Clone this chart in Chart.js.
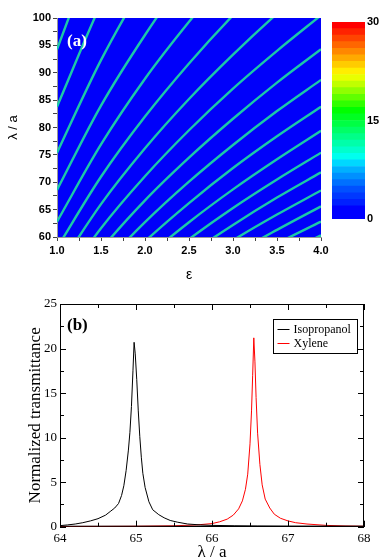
<!DOCTYPE html>
<html>
<head>
<meta charset="utf-8">
<script src="https://cdn.jsdelivr.net/npm/chart.js@4.4.1/dist/chart.umd.min.js"></script>
<style>
  html, body { margin: 0; padding: 0; background: #fff; }
  #wrap { position: relative; width: 382px; height: 559px; overflow: hidden; }
  canvas { position: absolute; }
  #mapChart { left: 0; top: 0; }
  #barChart { left: 325px; top: 0; }
  #specChart { left: 0; top: 285px; }
</style>
</head>
<body>
<div id="wrap">
  <canvas id="mapChart" width="382" height="285"></canvas>
  <canvas id="barChart" width="70" height="240"></canvas>
  <canvas id="specChart" width="382" height="290"></canvas>
</div>
<script>
// ---- panel (a): resonance lines, lambda/a against epsilon ----
const epsilon = [1.0, 1.5, 2.0, 2.5, 3.0, 3.5, 4.0];
const modeLines = [
  [94.3, 115.4, 133.3, 149.0, 163.2, 176.3, 188.5],
  [83.8, 102.6, 118.5, 132.5, 145.1, 156.7, 167.6],
  [75.4, 92.3, 106.6, 119.2, 130.6, 141.1, 150.8],
  [68.6, 84.0, 96.9, 108.4, 118.7, 128.2, 137.1],
  [62.8, 76.9, 88.9, 99.3, 108.8, 117.5, 125.7],
  [58.0, 71.0, 82.0, 91.7, 100.5, 108.5, 116.0],
  [53.9, 66.0, 76.2, 85.2, 93.3, 100.8, 107.7],
  [50.3, 61.6, 71.1, 79.5, 87.1, 94.0, 100.5],
  [47.1, 57.7, 66.7, 74.5, 81.6, 88.2, 94.3],
  [44.4, 54.3, 62.7, 70.1, 76.8, 83.0, 88.7],
  [41.9, 51.3, 59.2, 66.2, 72.6, 78.4, 83.8],
  [39.7, 48.6, 56.1, 62.7, 68.7, 74.2, 79.4],
  [37.7, 46.2, 53.3, 59.6, 65.3, 70.5, 75.4],
  [35.9, 44.0, 50.8, 56.8, 62.2, 67.2, 71.8],
  [34.3, 42.0, 48.5, 54.2, 59.4, 64.1, 68.5],
  [32.8, 40.1, 46.4, 51.8, 56.8, 61.3, 65.6],
  [31.4, 38.5, 44.4, 49.7, 54.4, 58.8, 62.8],
  [30.2, 36.9, 42.7, 47.7, 52.2, 56.4, 60.3]
];

// colour scale 0..30, one entry per unit from the bottom
const barTicks = [0, 15, 30];
const barPalette = [
  '#0000ff', '#0000ff', '#0020ff', '#0038ff', '#0050ff', '#0070ff', '#0090ff', '#00b0ff',
  '#00d8ff', '#00ffee', '#00ffcc', '#00ffaa', '#00ff88', '#00ff66', '#00ff44', '#00ff22',
  '#00ff00', '#30ff00', '#60ff00', '#90ff00', '#c0ff00', '#e8ff00', '#ffee00', '#ffcc00',
  '#ffaa00', '#ff8800', '#ff6600', '#ff4400', '#ff2200', '#ff0000'
];

// ---- panel (b): transmittance spectra ----
const isoLambda = [64.00, 64.10, 64.20, 64.30, 64.40, 64.50, 64.60, 64.66, 64.72, 64.77, 64.81, 64.84, 64.87, 64.90, 64.92, 64.94, 64.96, 64.975, 64.99, 65.01, 65.03, 65.05, 65.07, 65.09, 65.12, 65.17, 65.22, 65.30, 65.37, 65.45, 65.55, 65.68, 65.85, 66.00, 66.30, 66.60, 67.00, 67.50, 68.00];
const isoT = [0.12, 0.2, 0.3, 0.45, 0.65, 0.9, 1.3, 1.7, 2.1, 2.6, 3.5, 4.6, 6.3, 8.6, 10.6, 13.5, 17.5, 20.7, 19.4, 16.5, 13.0, 10.1, 7.8, 6.0, 4.4, 2.8, 1.9, 1.35, 1.0, 0.7, 0.5, 0.3, 0.2, 0.15, 0.1, 0.07, 0.05, 0.04, 0.03];
const xylLambda = [64.0, 64.5, 65.0, 65.5, 65.8, 66.0, 66.1, 66.2, 66.28, 66.35, 66.40, 66.44, 66.47, 66.50, 66.52, 66.535, 66.55, 66.565, 66.58, 66.60, 66.63, 66.66, 66.70, 66.76, 66.82, 66.90, 67.00, 67.10, 67.25, 67.50, 67.75, 68.00];
const xylT = [0.02, 0.03, 0.05, 0.1, 0.2, 0.35, 0.55, 0.85, 1.3, 2.0, 2.9, 4.2, 5.9, 9.3, 13.0, 17.0, 21.2, 18.5, 14.5, 10.5, 7.0, 4.7, 3.1, 2.1, 1.4, 0.95, 0.65, 0.45, 0.3, 0.15, 0.08, 0.05];
const seriesNames = ['Isopropanol', 'Xylene'];

const sans = 'Arial, "Liberation Sans", sans-serif';
const serif = '"Times New Roman", "Liberation Serif", serif';

// blue field behind the lines + the (a) tag
const bluePlane = {
  id: 'bluePlane',
  beforeDraw(chart) {
    const a = chart.chartArea, ctx = chart.ctx;
    ctx.save();
    ctx.fillStyle = '#0000fa';
    ctx.fillRect(a.left, a.top, a.right - a.left, a.bottom - a.top);
    ctx.restore();
  },
  afterDatasetsDraw(chart) {
    const ctx = chart.ctx;
    ctx.save();
    ctx.fillStyle = '#fff';
    ctx.font = 'bold 17px ' + serif;
    ctx.textBaseline = 'middle';
    ctx.fillText('(a)', 67, 42);
    ctx.restore();
  }
};

const lineSets = [];
modeLines.forEach(row => {
  const pts = epsilon.map((e, i) => ({ x: e, y: row[i] }));
  lineSets.push({ data: pts, showLine: true, borderColor: '#1cc8a8', borderWidth: 2.4, pointRadius: 0, cubicInterpolationMode: 'monotone', clip: 0 });
  lineSets.push({ data: pts, showLine: true, borderColor: '#90ee58', borderWidth: 1, pointRadius: 0, cubicInterpolationMode: 'monotone', clip: 0 });
});

new Chart(document.getElementById('mapChart'), {
  type: 'scatter',
  data: { datasets: lineSets },
  options: {
    responsive: false,
    animation: false,
    events: [],
    layout: { padding: { top: 18, right: 61, left: 0, bottom: 0 } },
    plugins: { legend: { display: false }, tooltip: { enabled: false } },
    scales: {
      x: {
        type: 'linear', min: 1, max: 4,
        ticks: {
          stepSize: 0.25, autoSkip: false, maxRotation: 0, padding: 3,
          color: '#000', font: { family: sans, size: 11, weight: 'bold' },
          callback: v => (v * 2) % 1 === 0 ? v.toFixed(1) : ''
        },
        grid: { drawOnChartArea: false, tickLength: 4, color: '#444' },
        border: { color: '#999' },
        title: { display: true, text: 'ε', color: '#000', font: { family: sans, size: 14 }, padding: { top: 0, bottom: 1 } },
        afterFit(s) { s.height = 48; }
      },
      y: {
        type: 'linear', min: 60, max: 100,
        ticks: {
          stepSize: 2.5, autoSkip: false, padding: 2,
          color: '#000', font: { family: sans, size: 11, weight: 'bold' },
          callback: v => v % 5 === 0 ? v : ''
        },
        grid: { drawOnChartArea: false, tickLength: 4, color: '#444' },
        border: { color: '#999' },
        title: { display: true, text: 'λ / a', color: '#000', font: { family: sans, size: 13 }, padding: { top: 6, bottom: 0 } },
        afterFit(s) { s.width = 57; }
      }
    }
  },
  plugins: [bluePlane]
});

// colour bar
new Chart(document.getElementById('barChart'), {
  type: 'bar',
  data: {
    labels: [''],
    datasets: barPalette.map(c => ({ data: [1], backgroundColor: c, borderWidth: 0, barPercentage: 1, categoryPercentage: 1 }))
  },
  options: {
    responsive: false,
    animation: false,
    events: [],
    layout: { padding: { top: 22, bottom: 21, left: 7, right: 0 } },
    plugins: { legend: { display: false }, tooltip: { enabled: false } },
    scales: {
      x: { display: false, stacked: true },
      y: {
        stacked: true, min: 0, max: 30, position: 'right',
        afterBuildTicks(s) { s.ticks = barTicks.map(v => ({ value: v })); },
        ticks: { padding: 2, color: '#000', font: { family: sans, size: 11, weight: 'bold' } },
        grid: { display: false, drawTicks: false },
        border: { display: false },
        afterFit(s) { s.width = 30; }
      }
    }
  }
});

// frame with inward ticks, legend box and (b) tag
const specDecor = {
  id: 'specDecor',
  afterDraw(chart) {
    const { ctx, chartArea: a, scales: { x, y } } = chart;
    ctx.save();
    ctx.strokeStyle = '#000';
    ctx.lineWidth = 1;
    ctx.strokeRect(a.left + 0.5, a.top + 0.5, a.right - a.left - 1, a.bottom - a.top - 1);
    ctx.beginPath();
    x.ticks.forEach(t => {
      const px = Math.round(x.getPixelForValue(t.value)) + 0.5;
      const len = t.label ? 6 : 4;
      ctx.moveTo(px, a.bottom); ctx.lineTo(px, a.bottom - len);
      ctx.moveTo(px, a.top); ctx.lineTo(px, a.top + len);
    });
    y.ticks.forEach(t => {
      const py = Math.round(y.getPixelForValue(t.value)) + 0.5;
      const len = t.label !== '' ? 6 : 4;
      ctx.moveTo(a.left, py); ctx.lineTo(a.left + len, py);
      ctx.moveTo(a.right, py); ctx.lineTo(a.right - len, py);
    });
    ctx.stroke();

    // legend
    const bx = 273.5, by = 34.5, bw = 84, bh = 34;
    ctx.fillStyle = '#fff';
    ctx.fillRect(bx, by, bw, bh);
    ctx.strokeRect(bx, by, bw, bh);
    ctx.font = '12px ' + serif;
    ctx.textBaseline = 'middle';
    chart.data.datasets.forEach((ds, i) => {
      const ly = by + 10 + i * 14;
      ctx.strokeStyle = ds.borderColor;
      ctx.beginPath();
      ctx.moveTo(bx + 4, ly); ctx.lineTo(bx + 16, ly);
      ctx.stroke();
      ctx.fillStyle = '#000';
      ctx.fillText(ds.label, bx + 20, ly);
    });

    ctx.fillStyle = '#000';
    ctx.font = 'bold 17px ' + serif;
    ctx.fillText('(b)', 67, 41);
    ctx.restore();
  }
};

new Chart(document.getElementById('specChart'), {
  type: 'scatter',
  data: {
    datasets: [
      { label: seriesNames[0], data: isoLambda.map((l, i) => ({ x: l, y: isoT[i] })), showLine: true, borderColor: '#000', borderWidth: 1, pointRadius: 0 },
      { label: seriesNames[1], data: xylLambda.map((l, i) => ({ x: l, y: xylT[i] })), showLine: true, borderColor: '#ff0000', borderWidth: 1, pointRadius: 0 }
    ]
  },
  options: {
    responsive: false,
    animation: false,
    events: [],
    layout: { padding: { top: 19, right: 18, left: 0, bottom: 0 } },
    plugins: { legend: { display: false }, tooltip: { enabled: false } },
    scales: {
      x: {
        type: 'linear', min: 64, max: 68,
        ticks: {
          stepSize: 0.5, autoSkip: false, maxRotation: 0, padding: 4,
          color: '#000', font: { family: serif, size: 13 },
          callback: v => v % 1 === 0 ? v : ''
        },
        grid: { drawOnChartArea: false, drawTicks: false },
        border: { color: '#000' },
        title: { display: true, text: 'λ / a', color: '#000', font: { family: serif, size: 17 }, padding: { top: 0, bottom: 12 } },
        afterFit(s) { s.height = 48.3; }
      },
      y: {
        type: 'linear', min: 0, max: 25,
        ticks: {
          stepSize: 2.5, autoSkip: false, padding: 3,
          color: '#000', font: { family: serif, size: 13 },
          callback: v => v % 5 === 0 ? v : ''
        },
        grid: { drawOnChartArea: false, drawTicks: false },
        border: { color: '#000' },
        title: { display: true, text: 'Normalized transmittance', color: '#000', font: { family: serif, size: 17 }, padding: { top: 25, bottom: 0 } },
        afterFit(s) { s.width = 60; }
      }
    }
  },
  plugins: [specDecor]
});
</script>
</body>
</html>
